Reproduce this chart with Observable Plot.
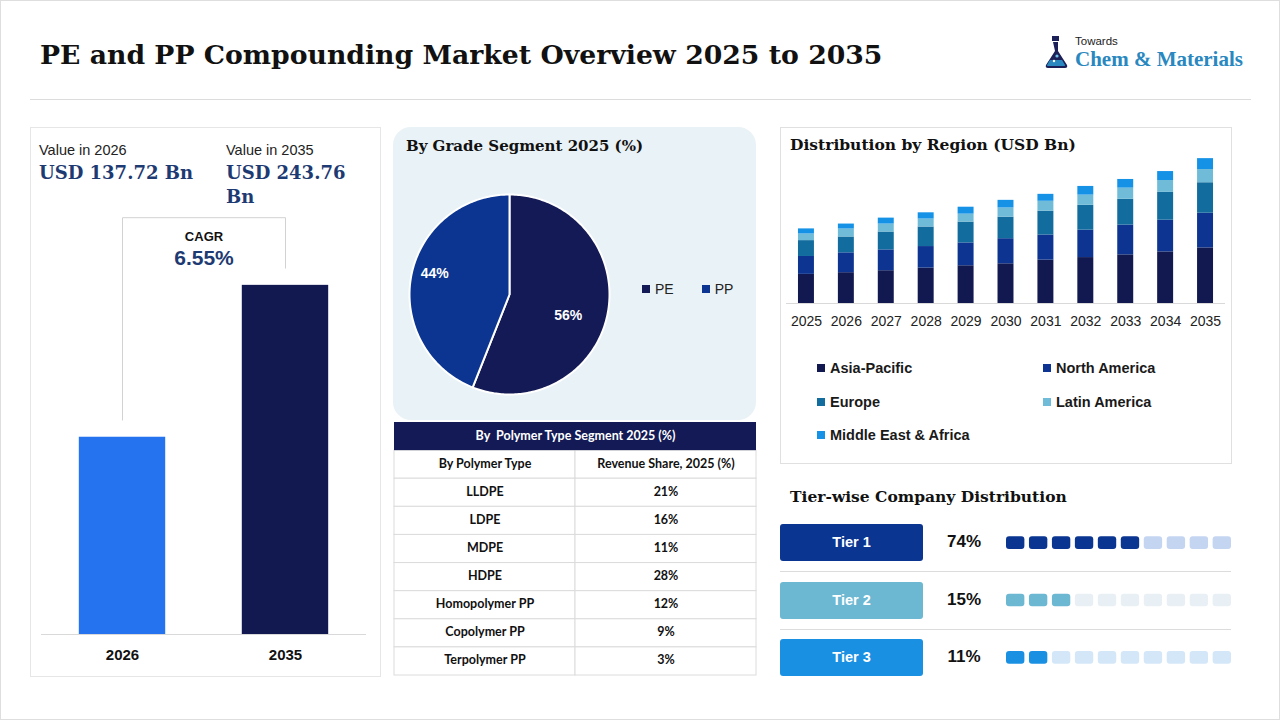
<!DOCTYPE html>
<html>
<head>
<meta charset="utf-8">
<script src="https://cdn.jsdelivr.net/npm/d3@7"></script>
<script src="https://cdn.jsdelivr.net/npm/@observablehq/plot@0.6"></script>
<style>
  body { margin: 0; background: #fff; }
  #page { position: relative; width: 1280px; height: 720px; overflow: hidden; background: #fff;
          font-family: "Liberation Sans", Arial, sans-serif; color: #111; }
  .abs { position: absolute; white-space: nowrap; }
  .serif { font-family: "DejaVu Serif", serif; font-weight: bold; }
  .panel { position: absolute; box-sizing: border-box; }
  .swatch { display: inline-block; width: 8px; height: 8px; margin-right: 5px; vertical-align: 1px; }
  .tierbox { position: absolute; left: 780px; width: 143px; height: 37px; border-radius: 3px;
             color: #fff; font-weight: bold; font-size: 14.5px; line-height: 37px; text-align: center; }
  .tierpct { position: absolute; left: 934px; width: 60px; text-align: center; font-weight: bold; font-size: 17px; }
  .sep { position: absolute; left: 780px; width: 451px; height: 1px; background: #dcdcdc; }
  svg { overflow: visible; }
</style>
</head>
<body>
<div id="page">
  <div class="panel" style="left:0;top:0;width:1280px;height:720px;border:1px solid #dedede;"></div>

  <!-- header -->
  <div class="abs serif" id="title" style="left:40px;top:38px;font-size:26.7px;line-height:34px;color:#111;">PE and PP Compounding Market Overview 2025 to 2035</div>
  <svg class="abs" style="left:1043px;top:34px;" width="32" height="36" viewBox="0 0 32 36">
    <rect x="9" y="2" width="7" height="5" fill="#1b2158"/>
    <path d="M10 8 h5 v9 l9 14 q1 3 -2 3 h-17 q-3 0 -2 -3 l9 -14 z" fill="#1b2158"/>
    <path d="M7 26 h12 l3 5 q0.5 1 -1 1 h-16 q-1.5 0 -1 -1 z" fill="#2a88c0"/>
    <circle cx="14" cy="22" r="1.6" fill="#6fc0e6"/>
    <circle cx="11" cy="27" r="1.2" fill="#fff"/>
  </svg>
  <div class="abs" style="left:1075px;top:35px;font-size:11.5px;line-height:13px;color:#222;">Towards</div>
  <div class="abs" style="left:1075px;top:50px;font-family:'Liberation Serif',serif;font-weight:bold;font-size:21px;line-height:18px;color:#2a88c0;">Chem &amp; Materials</div>
  <div class="abs" style="left:30px;top:99px;width:1221px;height:1px;background:#dcdcdc;"></div>

  <!-- headline values panel -->
  <div class="panel" style="left:30px;top:127px;width:351px;height:550px;border:1px solid #e6e6e6;"></div>
  <div class="abs" id="v1label" style="left:39px;top:141px;font-size:14.5px;line-height:18px;color:#222;"></div>
  <div class="abs serif" id="v1value" style="left:39px;top:161px;font-size:18px;line-height:24px;color:#1e3a72;"></div>
  <div class="abs" id="v2label" style="left:226px;top:141px;font-size:14.5px;line-height:18px;color:#222;"></div>
  <div class="abs serif" id="v2value" style="left:226px;top:161px;width:125px;white-space:normal;font-size:18px;line-height:24px;color:#1e3a72;"></div>
  <div class="abs" style="left:122px;top:229px;width:164px;text-align:center;font-weight:bold;font-size:13px;line-height:16px;">CAGR</div>
  <div class="abs" id="cagr" style="left:122px;top:245px;width:164px;text-align:center;font-weight:bold;font-size:21px;line-height:26px;color:#1e3a72;"></div>
  <div id="leftChart" class="abs" style="left:30px;top:200px;"></div>

  <!-- grade pie panel -->
  <div class="panel" style="left:393px;top:127px;width:363px;height:293px;background:#e9f2f6;border-radius:18px;"></div>
  <div class="abs serif" style="left:406px;top:136px;font-size:15px;line-height:20px;">By Grade Segment 2025 (%)</div>
  <div id="pieChart" class="abs" style="left:404px;top:189px;"></div>
  <div id="pieLegend" class="abs" style="left:642px;top:280px;font-size:14px;line-height:18px;color:#222;"></div>

  <!-- polymer table -->
  <div id="tableChart" class="abs" style="left:393px;top:422px;"></div>

  <!-- region panel -->
  <div class="panel" style="left:780px;top:127px;width:452px;height:337px;border:1px solid #e0e0e0;"></div>
  <div class="abs serif" style="left:790px;top:135px;font-size:15.5px;line-height:20px;">Distribution by Region (USD Bn)</div>
  <div id="regionChart" class="abs" style="left:780px;top:150px;"></div>
  <div id="regionLegend"></div>

  <!-- tier section -->
  <div class="abs serif" style="left:790px;top:487px;font-size:15.5px;line-height:20px;">Tier-wise Company Distribution</div>
  <div id="tiers"></div>
  <div class="sep" style="top:571px;"></div>
  <div class="sep" style="top:629px;"></div>
  <div id="tierDots" class="abs" style="left:1006px;top:514px;"></div>
</div>

<script>
// ---- data ----
const headlineYears = ["2026", "2035"];
const headlineValues = [137.72, 243.76];
const headlineColors = ["#2673f0", "#121850"];
const cagrText = "6.55%";

const gradeLabels = ["PE", "PP"];
const gradeShares = [56, 44];
const gradeColors = ["#141a55", "#0b3590"];

const polymerTitle = "By\u00a0 Polymer Type Segment 2025 (%)";
const polymerHeaders = ["By Polymer Type", "Revenue Share, 2025 (%)"];
const polymerTypes = ["LLDPE", "LDPE", "MDPE", "HDPE", "Homopolymer PP", "Copolymer PP", "Terpolymer PP"];
const polymerShares = [21, 16, 11, 28, 12, 9, 3];

const regionYears = ["2025", "2026", "2027", "2028", "2029", "2030", "2031", "2032", "2033", "2034", "2035"];
const regionNames = ["Asia-Pacific", "North America", "Europe", "Latin America", "Middle East & Africa"];
const regionColors = ["#121850", "#0c3490", "#136c9e", "#70bcd8", "#1592e6"];
const asiaPacific      = [50.5, 53.4, 56.8, 61.4, 65.4, 68.8, 75.2, 79.6, 84.3, 89.4, 96.3];
const northAmerica     = [31.0, 34.4, 36.1, 37.3, 39.6, 43.5, 43.5, 47.6, 51.6, 55.0, 60.2];
const europe           = [27.5, 27.5, 31.0, 33.9, 36.1, 37.3, 41.3, 43.0, 44.7, 48.2, 52.8];
const latinAmerica     = [11.5, 13.8, 13.8, 13.8, 13.8, 16.0, 17.2, 17.7, 19.4, 20.6, 22.9];
const middleEastAfrica = [ 8.8,  8.6, 10.3, 10.8, 12.0, 13.2, 12.0, 15.0, 15.0, 15.5, 18.9];

const tierNames = ["Tier 1", "Tier 2", "Tier 3"];
const tierShares = [74, 15, 11];
const tierDotsFilled = [6, 3, 2];
const tierColors = ["#0a3590", "#6cb8d3", "#1a90e3"];
const tierTints = ["#c4d5f2", "#e9f0f5", "#d3e7f8"];

// ---- headline values and CAGR bracket ----
document.getElementById("v1label").textContent = `Value in ${headlineYears[0]}`;
document.getElementById("v2label").textContent = `Value in ${headlineYears[1]}`;
document.getElementById("v1value").textContent = `USD ${headlineValues[0]} Bn`;
document.getElementById("v2value").textContent = `USD ${headlineValues[1]} Bn`;
document.getElementById("cagr").textContent = cagrText;

const headline = headlineYears.map((year, i) => ({year, value: headlineValues[i], color: headlineColors[i]}));
const bracketTop = 291, bracketGap = 12;
const bracket = [
  {year: headlineYears[0], v: headlineValues[0] + bracketGap},
  {year: headlineYears[0], v: bracketTop},
  {year: headlineYears[1], v: bracketTop},
  {year: headlineYears[1], v: headlineValues[1] + bracketGap}
];
document.getElementById("leftChart").append(Plot.plot({
  width: 350, height: 476,
  marginTop: 0, marginBottom: 42, marginLeft: 11, marginRight: 14,
  style: {fontFamily: "Liberation Sans, Arial, sans-serif", fontSize: "15px", fontWeight: "bold", color: "#111", background: "transparent"},
  x: {domain: headlineYears, paddingInner: 0.47, paddingOuter: 0.232, round: false, label: null, tickSize: 0, tickPadding: 15},
  y: {domain: [0, 303], axis: null},
  marks: [
    Plot.barY(headline, {x: "year", y: "value", fill: "color"}),
    Plot.ruleY([0], {stroke: "#d9d9d9"}),
    Plot.line(bracket, {x: "year", y: "v", stroke: "#d2d2d2", strokeWidth: 1})
  ]
}));

// ---- grade pie ----
const arcs = d3.pie().sort(null).value(d => d)(gradeShares);
const piePolys = arcs.flatMap((a, i) => {
  const slice = gradeLabels[i];
  const steps = Math.ceil((a.endAngle - a.startAngle) / (Math.PI / 180));
  const pts = [{slice, color: gradeColors[i], x: 0, y: 0}];
  for (let k = 0; k <= steps; k++) {
    const t = a.startAngle + (a.endAngle - a.startAngle) * k / steps;
    pts.push({slice, color: gradeColors[i], x: Math.sin(t), y: Math.cos(t)});
  }
  pts.push({slice, color: gradeColors[i], x: 0, y: 0});
  return pts;
});
const pieLabels = arcs.map((a, i) => {
  const mid = (a.startAngle + a.endAngle) / 2 + 0.12;
  return {x: 0.7 * Math.sin(mid), y: 0.7 * Math.cos(mid), text: `${gradeShares[i]}%`};
});
document.getElementById("pieChart").append(Plot.plot({
  width: 210, height: 210, margin: 0,
  style: {background: "transparent", fontFamily: "Liberation Sans, Arial, sans-serif"},
  x: {domain: [-1.05, 1.05], axis: null},
  y: {domain: [-1.05, 1.05], axis: null},
  marks: [
    Plot.line(piePolys, {x: "x", y: "y", z: "slice", fill: "color", stroke: "#ffffff", strokeWidth: 2, strokeLinejoin: "round"}),
    Plot.text(pieLabels, {x: "x", y: "y", dx: -8, text: "text", fill: "#fff", fontSize: 14, fontWeight: "bold"})
  ]
}));
document.getElementById("pieLegend").innerHTML = gradeLabels.map((g, i) =>
  `<span style="margin-right:${i === 0 ? 28 : 0}px"><span class="swatch" style="background:${gradeColors[i]}"></span>${g}</span>`).join("");

// ---- polymer table ----
const rowKeys = ["__title", "__head", ...polymerTypes];
const tableCells = [];
const tableTexts = [{row: "__title", cx: 0.5, text: polymerTitle, fill: "#fff"}];
["__head", ...polymerTypes].forEach((row, r) => {
  [0, 1].forEach(c => tableCells.push({row, x1: c * 0.5, x2: (c + 1) * 0.5}));
  if (r === 0) {
    tableTexts.push({row, cx: 0.25, text: polymerHeaders[0], fill: "#111"});
    tableTexts.push({row, cx: 0.75, text: polymerHeaders[1], fill: "#111"});
  } else {
    tableTexts.push({row, cx: 0.25, text: polymerTypes[r - 1], fill: "#111"});
    tableTexts.push({row, cx: 0.75, text: `${polymerShares[r - 1]}%`, fill: "#111"});
  }
});
document.getElementById("tableChart").append(Plot.plot({
  width: 364, height: 254, marginTop: 0, marginBottom: 1, marginLeft: 1, marginRight: 1,
  style: {background: "transparent", fontFamily: "Lato, 'Liberation Sans', sans-serif"},
  x: {domain: [0, 1], axis: null},
  y: {domain: rowKeys, axis: null, padding: 0, round: false},
  marks: [
    Plot.barX(tableCells, {x1: "x1", x2: "x2", y: "row", fill: "#fff", stroke: "#dcdcdc"}),
    Plot.barX([{row: "__title"}], {x1: 0, x2: 1, y: "row", fill: "#131a55"}),
    Plot.text(tableTexts, {x: "cx", y: "row", dy: -1, text: "text", fill: "fill", fontSize: 12.5, fontWeight: "bold"})
  ]
}));

// ---- regional stacked bars ----
const regionSeries = [asiaPacific, northAmerica, europe, latinAmerica, middleEastAfrica];
const regionRows = regionYears.flatMap((year, i) =>
  regionNames.map((region, j) => ({year, region, value: regionSeries[j][i]})));
document.getElementById("regionChart").append(Plot.plot({
  width: 451, height: 190, marginTop: 3, marginBottom: 37, marginLeft: 6, marginRight: 6,
  style: {fontFamily: "Liberation Sans, Arial, sans-serif", fontSize: "14px", color: "#222", background: "transparent"},
  x: {domain: regionYears, paddingInner: 0.6, paddingOuter: 0.3, round: false, label: null, tickSize: 0, tickPadding: 13},
  y: {domain: [0, 260], axis: null},
  color: {domain: regionNames, range: regionColors},
  marks: [
    Plot.barY(regionRows, {x: "year", y: "value", fill: "region"}),
    Plot.ruleY([0], {stroke: "#d9d9d9"})
  ]
}));
const legendSpots = [[817, 368], [1043, 368], [817, 402], [1043, 402], [817, 435]];
document.getElementById("regionLegend").innerHTML = regionNames.map((r, i) =>
  `<div class="abs" style="left:${legendSpots[i][0]}px;top:${legendSpots[i][1] - 9}px;font-size:14.5px;line-height:18px;font-weight:bold;color:#1a1a1a;">` +
  `<span class="swatch" style="background:${regionColors[i]};margin-right:5px"></span>${r}</div>`).join("");

// ---- tiers ----
const tierTops = [524, 582, 639];
document.getElementById("tiers").innerHTML = tierNames.map((t, i) =>
  `<div class="tierbox" style="top:${tierTops[i]}px;background:${tierColors[i]}">${t}</div>` +
  `<div class="tierpct" style="top:${tierTops[i] + 8}px;line-height:20px">${tierShares[i]}%</div>`).join("");
const dots = tierNames.flatMap((tier, i) => d3.range(10).map(slot =>
  ({tier, slot, fill: slot < tierDotsFilled[i] ? tierColors[i] : tierTints[i]})));
document.getElementById("tierDots").append(Plot.plot({
  width: 225, height: 172, margin: 0,
  style: {background: "transparent"},
  x: {domain: d3.range(10), paddingInner: 0.2, paddingOuter: 0, round: false, axis: null},
  y: {domain: tierNames, paddingInner: 0.78, paddingOuter: 0.39, round: false, axis: null},
  marks: [Plot.cell(dots, {x: "slot", y: "tier", fill: "fill", rx: 3})]
}));
</script>
</body>
</html>
